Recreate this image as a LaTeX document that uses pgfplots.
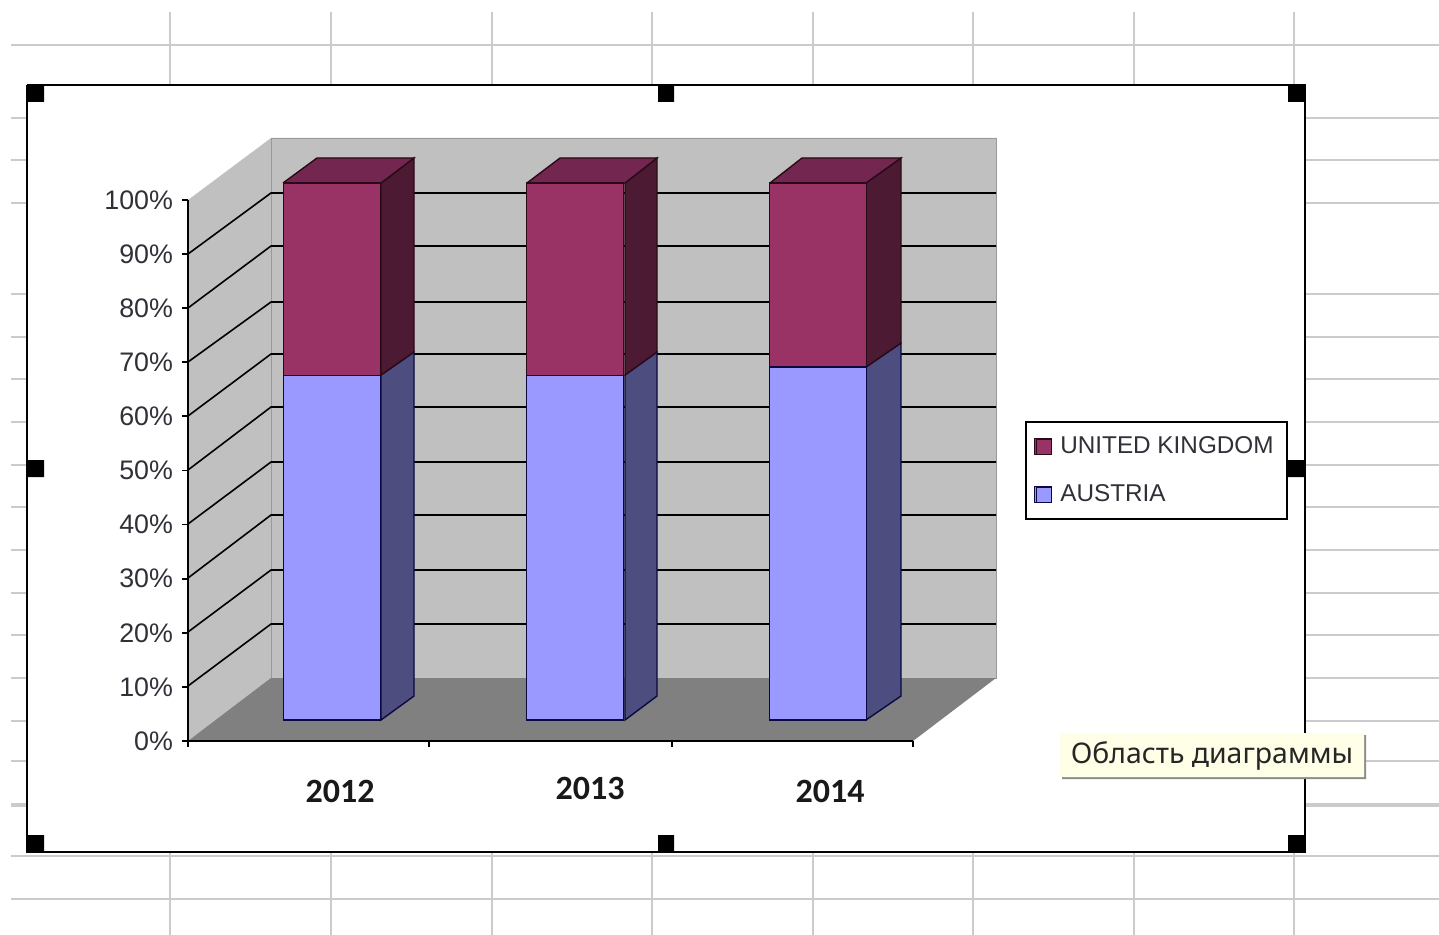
\documentclass[border=0pt]{standalone}
\usepackage{fontspec}
\setmainfont{Liberation Sans}
\newfontfamily\carlito{Carlito}
\newfontfamily\noto{Noto Sans}
\usepackage{pgfplots}
\pgfplotsset{compat=1.18}
\definecolor{gridc}{HTML}{CBCBCB}
\definecolor{wall}{HTML}{C0C0C0}
\definecolor{floorc}{HTML}{808080}
\definecolor{ukf}{HTML}{993366}
\definecolor{uks}{HTML}{4D1A33}
\definecolor{ukt}{HTML}{732650}
\definecolor{atf}{HTML}{9999FF}
\definecolor{ats}{HTML}{4D4D80}
\definecolor{uke}{HTML}{2A0A18}
\definecolor{ate}{HTML}{0A0A40}
\definecolor{txt}{HTML}{303038}
\begin{document}
\begin{tikzpicture}
\useasboundingbox (0pt,0pt) rectangle (719.5pt,467.5pt);
% background: spreadsheet, chart area, 3-D box and bar depth faces (pixel coordinates)
\begin{axis}[at={(0pt,0pt)},anchor=south west,scale only axis,width=719.5pt,height=467.5pt,
  xmin=0,xmax=1439,ymin=0,ymax=935,y dir=reverse,hide axis,clip=true]
\pgfplotsinvokeforeach{45,118,160,203,294,337,379,422,465,507,550,593,635,678,721,761,856,899}{
  \addplot[gridc,line width=0.9pt] coordinates {(11,#1)(1439,#1)};}
\addplot[gridc,line width=1.6pt] coordinates {(11,805)(1439,805)};
\pgfplotsinvokeforeach{170,331,492,652,813,973,1134,1294}{
  \addplot[gridc,line width=0.9pt] coordinates {(#1,12)(#1,935)};}
\addplot[fill=white,draw=black,line width=1.1pt] coordinates {(27,85)(1305,85)(1305,852)(27,852)(27,85)};
% handles
\addplot[fill=black,draw=none] coordinates {(27,85)(44,85)(44,102)(27,102)(27,85)};
\addplot[fill=black,draw=none] coordinates {(1288,85)(1305,85)(1305,102)(1288,102)(1288,85)};
\addplot[fill=black,draw=none] coordinates {(27,835)(44,835)(44,852)(27,852)(27,835)};
\addplot[fill=black,draw=none] coordinates {(1288,835)(1305,835)(1305,852)(1288,852)(1288,835)};
\addplot[fill=black,draw=none] coordinates {(658,86)(674,86)(674,102)(658,102)(658,86)};
\addplot[fill=black,draw=none] coordinates {(658,835)(674,835)(674,851)(658,851)(658,835)};
\addplot[fill=black,draw=none] coordinates {(27,460)(44,460)(44,477)(27,477)(27,460)};
\addplot[fill=black,draw=none] coordinates {(1288,460)(1305,460)(1305,477)(1288,477)(1288,460)};
% walls and floor
\addplot[fill=wall,draw=none] coordinates {(188,200)(271,138)(271,680)(188,741)(188,200)};
\addplot[fill=wall,draw=gray!80,line width=0.4pt] coordinates {(271,138)(996,138)(996,678)(271,678)(271,138)};
\addplot[fill=floorc,draw=none] coordinates {(188,741)(271,678)(996,678)(913,741)(188,741)};
% gridlines
\addplot[black,line width=0.8pt] coordinates {(188,254)(271,193)(996,193)};
\addplot[black,line width=0.8pt] coordinates {(188,308)(271,246)(996,246)};
\addplot[black,line width=0.8pt] coordinates {(188,362)(271,302)(996,302)};
\addplot[black,line width=0.8pt] coordinates {(188,416)(271,354)(996,354)};
\addplot[black,line width=0.8pt] coordinates {(188,470)(271,407)(996,407)};
\addplot[black,line width=0.8pt] coordinates {(188,524)(271,462)(996,462)};
\addplot[black,line width=0.8pt] coordinates {(188,578)(271,515)(996,515)};
\addplot[black,line width=0.8pt] coordinates {(188,632)(271,570)(996,570)};
\addplot[black,line width=0.8pt] coordinates {(188,686)(271,624)(996,624)};
% bar depth faces
\addplot[fill=ats,draw=ate,line width=0.7pt] coordinates {(381,375)(414,352)(414,696)(381,720)(381,375)};
\addplot[fill=uks,draw=uke,line width=0.7pt] coordinates {(381,183)(414,158)(414,352)(381,375)(381,183)};
\addplot[fill=ukt,draw=uke,line width=0.7pt] coordinates {(283,183)(317,158)(414,158)(381,183)(283,183)};
\addplot[fill=ats,draw=ate,line width=0.7pt] coordinates {(625,375)(657,352)(657,696)(625,720)(625,375)};
\addplot[fill=uks,draw=uke,line width=0.7pt] coordinates {(625,183)(657,158)(657,352)(625,375)(625,183)};
\addplot[fill=ukt,draw=uke,line width=0.7pt] coordinates {(527,183)(560,158)(657,158)(625,183)(527,183)};
\addplot[fill=ats,draw=ate,line width=0.7pt] coordinates {(866,367)(901,343)(901,696)(866,720)(866,367)};
\addplot[fill=uks,draw=uke,line width=0.7pt] coordinates {(866,183)(901,158)(901,343)(866,367)(866,183)};
\addplot[fill=ukt,draw=uke,line width=0.7pt] coordinates {(770,183)(802,158)(901,158)(866,183)(770,183)};
% tooltip
\addplot[fill=black!45,draw=none] coordinates {(1062,735)(1366,735)(1366,779)(1062,779)(1062,735)};
\addplot[fill=yellow!10,draw=none] coordinates {(1060,733)(1364,733)(1364,777)(1060,777)(1060,733)};
\node[anchor=center,text=black!85,inner sep=0pt] at (axis cs:1212,756) {\noto\fontsize{14.2}{16}\selectfont Область диаграммы};
\end{axis}
% value axis and category axis on the front plane
\begin{axis}[at={(94pt,97pt)},anchor=south west,scale only axis,width=362.5pt,height=270.5pt,
  xmin=188,xmax=913,ymin=0,ymax=100,
  axis x line=bottom,axis y line=left,axis line style={-,line width=1pt},
  tick style={black,line width=0.9pt},tick align=outside,major tick length=3pt,
  ytick={0,10,...,100},
  yticklabels={0\%,10\%,20\%,30\%,40\%,50\%,60\%,70\%,80\%,90\%,100\%},
  yticklabel style={font=\fontsize{13.4}{15}\selectfont,text=txt,xshift=-1pt},
  xtick={188,429,672,913},xticklabels={},
  extra x ticks={340,590,830},
  extra x tick labels={\rule{0pt}{11pt}2012,\raisebox{1.5pt}[11pt][0pt]{2013},\rule{0pt}{11pt}2014},
  extra x tick style={major tick length=0pt,
    tick label style={font=\carlito\bfseries\fontsize{17}{20}\selectfont,text=black!90,yshift=-16.3pt}}]
\end{axis}
% the stacked bars (front faces) and the legend
\begin{axis}[at={(105.25pt,107.5pt)},anchor=south west,scale only axis,width=364.5pt,height=268.5pt,
  ybar stacked,bar width=48.5pt,hide axis,clip=false,
  xmin=-0.5,xmax=2.5,ymin=0,ymax=100,
  reverse legend,
  legend cell align=left,
  legend image code/.code={\path (0pt,-4pt) rectangle (8.5pt,4pt);
    \draw[#1,line width=0.7pt] (1pt,-4pt) rectangle (8.5pt,3.5pt);},
  legend style={at={(axis description cs:1.1177,0.557)},anchor=north west,draw=black,line width=1pt,
    font=\fontsize{12.15}{14}\selectfont,text=txt,fill=white,inner xsep=3.8pt,inner ysep=5.3pt,
    row sep=10pt,nodes={inner xsep=3pt}}]
\addplot[fill=atf,draw=ate,line width=0.7pt] coordinates {(0,64.2)(1,64.2)(2,65.7)};
\addplot[fill=ukf,draw=uke,line width=0.7pt] coordinates {(0,35.8)(1,35.8)(2,34.3)};
\legend{\hspace{1pt}AUSTRIA,\hspace{1pt}UNITED KINGDOM\hspace{-2.5pt}}
\end{axis}
\end{tikzpicture}
\end{document}
